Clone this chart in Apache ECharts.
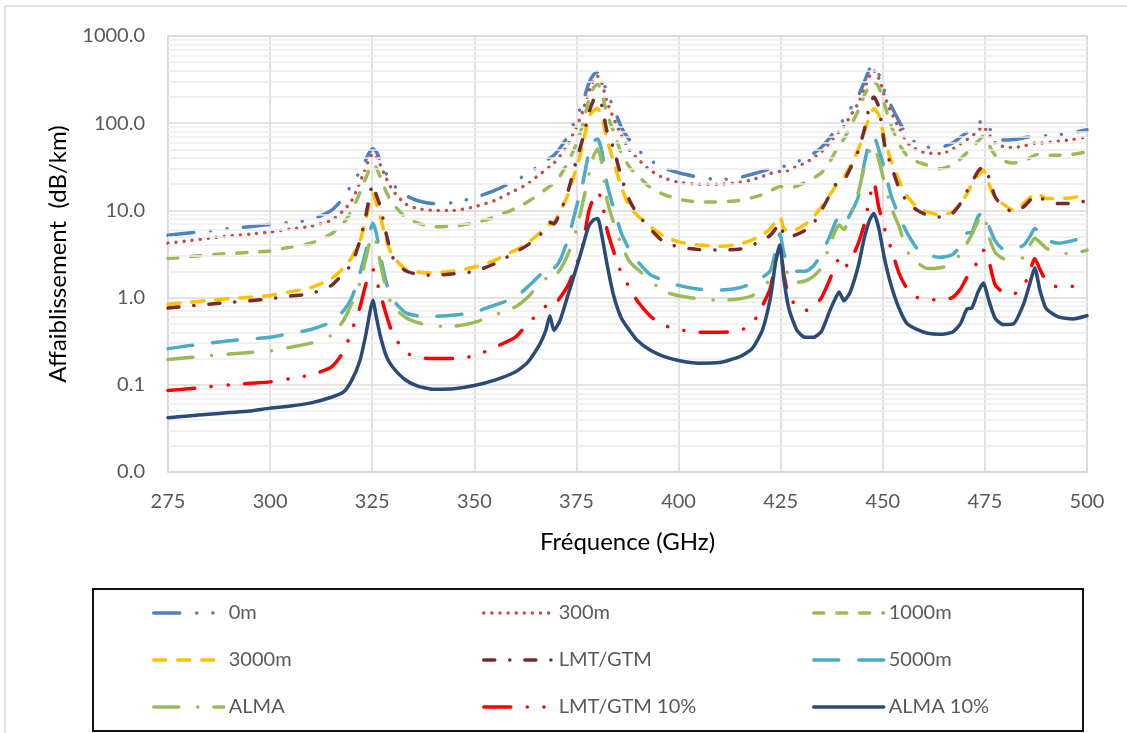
<!DOCTYPE html>
<html>
<head>
<meta charset="utf-8">
<script src="https://cdn.jsdelivr.net/npm/echarts@6/dist/echarts.min.js"></script>
<style>
html,body{margin:0;padding:0;background:#fff;}
#c{width:1127px;height:733px;}
</style>
</head>
<body>
<div id="c"></div>
<script>
// Frequencies (GHz)
const freq = [275,280,285,290,295,300,305,310,315,318,
  320,322,323.5,324.5,325.15,326,327,328.5,330,333,
  336,340,345,350,355,360,363,366,367.5,368.5,
  369.5,371,373,375,376.5,378,379.2,380.2,381.2,382.5,
  384,386,388,390,393,396,400,405,410,415,
  418,420.5,422.5,423.8,424.8,425.8,427,429,431,433,
  435,437,438.5,439.3,440.5,442,444,445.5,446.8,447.8,
  449,450.5,452,454,456,458.5,461,464,467,469,
  470.6,471.8,473.3,474.6,476,477.5,479.5,482,484.5,486,
  487.2,488.5,490,493,496.5,500];

// Attenuation values (dB/km)
const v0m = [5.2,5.5,5.8,6.2,6.5,6.9,7.3,7.8,10,14,
  20,28,39,48,51,47,37,26,20,15,
  13,12,12.3,14,17,22,26,33,37,40,
  43,52,72,117,170,285,360,386,330,225,
  153,90,64,50,38,31,27,24,22.5,24,
  26,28,30,31,32,32,33,36,40,45,
  53,68,85,95,112,145,205,300,420,460,
  370,230,160,105,72,58,53,53,59,69,
  78,85,98,110,88,72,64,65,68,70,
  72,72,72,74,78,84];
const v300m = [4.2,4.5,4.8,5.1,5.35,5.65,6.1,6.6,7.7,10,
  13,21,32,41,45,41,33,23,17,12,
  10.5,10,10,11,13,17,20,26,29,32,
  35,42,58,90,135,228,310,345,290,175,
  117,73,49,39,29,24,21,20,20,21,
  22.5,24.5,26.5,27.5,28,28,29,32,35,40,
  47,60,73,80,92,120,170,250,350,400,
  330,200,135,88,60,49,45.5,45,50,58,
  65,71,82,92,74,60,54,52.5,55,57,
  59,59,60,62,65,69.5];
const v1000m = [2.8,2.95,3.1,3.2,3.3,3.43,3.8,4.2,5.4,7.2,
  10,16,24,31,34,31,24,16,12,8.5,
  7.2,6.5,6.6,7.2,8.4,10.5,12.5,15.5,17.5,19,
  20.5,25,36,58,95,183,255,280,230,125,
  83,45,31.5,25,18.5,15.5,13.4,12.5,12.5,13,
  14,15.2,16.8,18,18.8,18.5,18,19,21,23.5,
  27,36,48,55,66,90,140,210,270,300,
  260,160,95,58,42,36,33,30,33,39,
  46,53,62,71,56,43,37,35,37,40,
  43,44,43,43,44,47];
const v3000m = [0.84,0.88,0.93,0.97,1.01,1.06,1.17,1.3,1.65,2.2,
  2.9,4.5,8,13,15.5,12,8.4,4.5,3.0,2.15,
  1.97,1.92,2.02,2.24,2.68,3.5,4.2,5.5,6.3,7.0,
  7.3,9.5,15.5,31,55,117,140,147,118,65,
  37.6,18.5,11,8.7,6.6,5.2,4.35,4.0,3.87,4.1,
  4.6,5.2,6.2,7.5,8.4,6.2,5.7,6.1,6.9,8.4,
  11,15,19,21,24,32,50,80,120,147,
  125,65,38,22,14.5,10.8,9.6,8.8,9.6,12,
  15.5,20,25,29,20,14,11.8,10,12,14,
  15.5,15,13.7,13.7,14,15.3];
const vLMT = [0.76,0.8,0.84,0.88,0.92,0.97,1.04,1.11,1.38,1.9,
  2.45,4.5,9,16,20,15,11,5.2,2.9,2.05,
  1.85,1.8,1.88,2.0,2.45,3.3,4.0,5.2,6.3,7.3,
  7.0,9.5,17,37.6,65,129,185,200,160,80,
  53,24,13,9,6.2,4.5,3.8,3.55,3.5,3.6,
  4.0,4.5,5.2,6.2,7.1,5.2,5.0,5.3,5.9,7.1,
  10,15,20,21,22,30,48,85,160,200,
  155,55,33,18,12.5,10,8.8,8.4,9.2,12,
  16.5,21,28,32,24,14.3,11,9.6,11,13,
  14.9,14,13,12,12,13];
const v5000m = [0.26,0.28,0.3,0.32,0.335,0.35,0.39,0.43,0.525,0.71,
  1.0,1.9,3.5,5.8,7.1,5.5,3.0,1.45,0.95,0.68,
  0.62,0.61,0.63,0.68,0.82,1.0,1.32,1.8,2.1,2.4,
  2.2,2.7,4.8,11,20,45,62,66,48,20,
  11,5.5,3.5,2.6,1.85,1.6,1.38,1.25,1.22,1.3,
  1.45,1.7,2.05,3.5,5.4,3.2,2.3,2.0,2.0,2.3,
  3.2,5.0,7.5,8.4,7.1,9,14.3,35,62,70,
  50,29,15,8.5,5.5,3.6,3.1,2.9,3.1,3.9,
  5.5,5.6,8.5,9.5,6.5,4.5,3.6,3.6,4.0,5.0,
  6.2,5.5,4.6,4.2,4.5,5.0];
const vALMA = [0.195,0.205,0.215,0.225,0.235,0.245,0.27,0.3,0.37,0.55,
  0.86,1.5,2.9,4.5,5.3,4.2,2.5,1.2,0.8,0.6,
  0.52,0.47,0.47,0.52,0.63,0.78,1.0,1.45,1.65,1.85,
  1.75,2.1,3.2,6,12,25,42,51,35,13,
  7.5,4.0,2.6,2.1,1.6,1.2,1.05,0.97,0.93,0.97,
  1.05,1.25,1.7,2.8,3.6,2.4,1.8,1.5,1.55,1.75,
  2.2,4.0,6.0,6.8,6.0,9,16,32,48,55,
  38,20,11,6.5,3.4,2.5,2.15,2.2,2.4,3.2,
  4.2,5.3,7.5,9.2,5.0,3.3,2.8,2.7,2.9,4.0,
  4.8,4.3,3.7,3.2,3.2,3.5];
const vLMT10 = [0.086,0.09,0.095,0.1,0.104,0.108,0.118,0.13,0.16,0.24,
  0.42,0.78,1.45,1.9,2.1,1.6,1.1,0.62,0.39,0.24,
  0.205,0.2,0.2,0.215,0.27,0.35,0.5,0.68,0.8,0.86,
  0.83,1.0,1.4,2.4,4.0,9.6,14,16.3,13,6,
  3.5,1.9,1.3,0.9,0.62,0.49,0.43,0.4,0.4,0.42,
  0.5,0.8,1.3,2.8,4.0,1.8,1.06,0.78,0.71,0.78,
  1.0,1.6,2.4,2.8,2.2,2.6,4.2,7,14,21,
  11,6,3.7,1.9,1.25,1.0,0.96,0.94,1.0,1.25,
  1.7,1.9,2.7,3.5,2.6,1.4,1.15,1.1,1.35,2.0,
  2.8,2.1,1.55,1.32,1.35,1.4];
const vALMA10 = [0.042,0.044,0.046,0.048,0.05,0.054,0.057,0.062,0.072,0.083,
  0.113,0.19,0.39,0.71,0.93,0.6,0.36,0.21,0.16,0.115,
  0.097,0.089,0.09,0.098,0.113,0.14,0.18,0.29,0.42,0.62,
  0.42,0.55,1.1,2.2,3.8,6.6,7.8,8.1,5.2,2.4,
  1.1,0.58,0.42,0.32,0.25,0.215,0.19,0.177,0.18,0.21,
  0.26,0.42,1.0,2.6,4.0,1.6,0.75,0.42,0.35,0.35,
  0.41,0.7,1.0,1.16,0.92,1.15,2.3,4.9,7.8,9.2,
  6.3,2.7,1.4,0.75,0.5,0.43,0.39,0.38,0.40,0.5,
  0.74,0.76,1.15,1.47,0.92,0.58,0.49,0.5,0.85,1.45,
  2.2,1.2,0.75,0.6,0.57,0.62];

// Axis ticks
const xTicks = {min: 275, max: 500, interval: 25};
const yMin = 0.01, yMax = 1000;
const minorGrid = [];
for (let e = -2; e < 3; e++) { for (let k = 2; k <= 9; k++) minorGrid.push(+(k * Math.pow(10, e)).toPrecision(3)); }

const FONT = 'Lato, "Open Sans", sans-serif';

function mk(name, vals, color, dash, z) {
  return {
    name: name, type: 'line', symbol: 'none', smooth: 0.2, z: z,
    data: freq.map((f, i) => [f, vals[i]]),
    lineStyle: {color: color, width: 3.5, type: dash, cap: 'round', join: 'round'},
    itemStyle: {color: color}
  };
}

const series = [
  {
    name: 'minor', type: 'line', data: [], z: 1, silent: true,
    markLine: {
      silent: true, symbol: ['none', 'none'], label: {show: false}, animation: false,
      lineStyle: {color: '#EDEDED', type: 'solid', width: 1.5},
      data: minorGrid.map(v => ({yAxis: v}))
    }
  },
  mk('0m', v0m, '#4F81BD', [26, 17, 0.1, 16, 0.1, 16.5], 2),
  mk('300m', v300m, '#C0504D', [0.1, 8], 3),
  mk('1000m', v1000m, '#9BBB59', [10, 13], 4),
  mk('3000m', v3000m, '#FFC000', [12, 12], 5),
  mk('LMT/GTM', vLMT, '#772C2A', [11, 15, 0.1, 15], 6),
  mk('5000m', v5000m, '#4BACC6', [25, 20], 7),
  mk('ALMA', vALMA, '#9BBB59', [25, 19, 0.1, 16], 8),
  mk('LMT/GTM 10%', vLMT10, '#FF0000', [27, 16.5, 0.1, 16.6, 0.1, 16.5], 9),
  mk('ALMA 10%', vALMA10, '#2A4A78', 'solid', 10)
];

function legendCol(left, names) {
  return {
    orient: 'vertical', left: left, top: 603, padding: 0,
    itemWidth: 70, itemHeight: 20, itemGap: 27,
    data: names, selectedMode: false,
    itemStyle: {opacity: 0, borderWidth: 0},
    lineStyle: {width: 3.5, cap: 'round'},
    textStyle: {fontFamily: FONT, fontSize: 20, color: '#595959', lineHeight: 20}
  };
}

const chart = echarts.init(document.getElementById('c'), null, {renderer: 'canvas'});
chart.setOption({
  animation: false,
  backgroundColor: '#ffffff',
  grid: {left: 168, right: 40, top: 36, bottom: 261, show: true, borderColor: '#D9D9D9', borderWidth: 1.5},
  xAxis: {
    type: 'value', min: xTicks.min, max: xTicks.max, interval: xTicks.interval,
    name: 'Fréquence (GHz)', nameLocation: 'middle', nameGap: 58,
    nameTextStyle: {fontFamily: FONT, fontSize: 24, color: '#000'},
    axisLine: {show: true, lineStyle: {color: '#D9D9D9', width: 1.5}},
    axisTick: {show: false},
    axisLabel: {fontFamily: FONT, fontSize: 20, color: '#595959', margin: 20},
    splitLine: {show: true, lineStyle: {color: '#D9D9D9', width: 1.5}}
  },
  yAxis: {
    type: 'log', logBase: 10, min: yMin, max: yMax,
    name: 'Affaiblissement  (dB/km)', nameLocation: 'middle', nameGap: 98,
    nameTextStyle: {fontFamily: FONT, fontSize: 24, color: '#000'},
    axisLine: {show: true, lineStyle: {color: '#D9D9D9', width: 1.5}},
    axisTick: {show: false},
    axisLabel: {fontFamily: FONT, fontSize: 20, color: '#595959', margin: 23,
      formatter: v => Number(v).toFixed(1)},
    splitLine: {show: true, lineStyle: {color: '#D9D9D9', width: 1.5}}
  },
  legend: [
    legendCol(152, ['0m', '3000m', 'ALMA']),
    legendCol(482, ['300m', 'LMT/GTM', 'LMT/GTM 10%']),
    legendCol(812, ['1000m', '5000m', 'ALMA 10%'])
  ],
  graphic: [
    {type: 'rect', left: 92, top: 588, silent: true, z: 0,
      shape: {width: 990, height: 142}, style: {fill: '#fff', stroke: '#111', lineWidth: 2}},
    {type: 'line', silent: true, shape: {x1: 5, y1: 6, x2: 5, y2: 733}, style: {stroke: '#D9D9D9', lineWidth: 1.5}},
    {type: 'line', silent: true, shape: {x1: 5, y1: 6, x2: 1127, y2: 6}, style: {stroke: '#D9D9D9', lineWidth: 1.5}}
  ],
  series: series
});
</script>
</body>
</html>
